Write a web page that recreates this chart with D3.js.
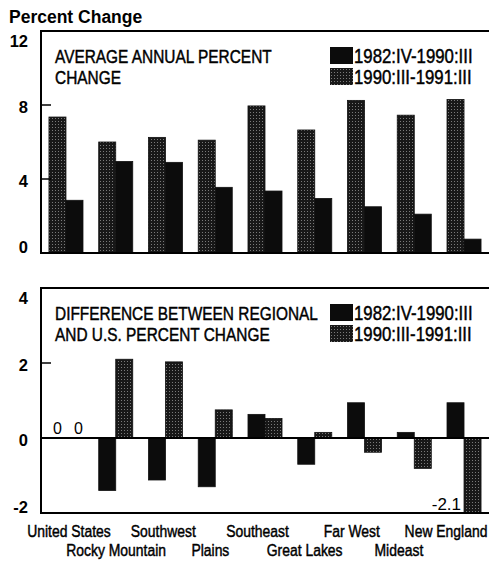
<!DOCTYPE html>
<html>
<head>
<meta charset="utf-8">
<script src="https://cdn.jsdelivr.net/npm/d3@7"></script>
<style>
  body { margin: 0; background: #fff; }
  text { font-family: "Liberation Sans", Arial, sans-serif; fill: #000; }
  .tick-label { font-weight: bold; font-size: 16.5px; }
  .heavy { stroke: #000; stroke-width: 0.45px; }
</style>
</head>
<body>
<div id="chart"></div>
<script>
const regions = ["United States", "Rocky Mountain", "Southwest", "Plains", "Southeast",
  "Great Lakes", "Far West", "Mideast", "New England"];
const periods = ["1982:IV-1990:III", "1990:III-1991:III"];

// average annual percent change
const avg8290 = [7.35, 6.0, 6.25, 6.1, 7.95, 6.65, 8.25, 7.45, 8.3];
const avg9091 = [2.85, 4.95, 4.9, 3.55, 3.35, 2.95, 2.5, 2.1, 0.75];

// difference between regional and U.S. percent change
const diff8290 = [0, -1.4, -1.12, -1.3, 0.63, -0.7, 0.94, 0.15, 0.94];
const diff9091 = [0, 2.1, 2.03, 0.75, 0.52, 0.15, -0.38, -0.81, -2.1];

const topTicks = [0, 4, 8, 12];
const bottomTicks = [-2, 0, 2, 4];

const width = 489, height = 563;
const left = 41, right = 489;
const squeeze = 0.82; // condensed type, as in the original

const svg = d3.select("#chart").append("svg")
  .attr("width", width)
  .attr("height", height);

// stippled fill
const pat = svg.append("defs").append("pattern")
  .attr("id", "stipple")
  .attr("patternUnits", "userSpaceOnUse")
  .attr("width", 3).attr("height", 3);
pat.append("rect").attr("width", 3).attr("height", 3).attr("fill", "#181818");
pat.append("rect").attr("x", 1).attr("y", 1).attr("width", 1).attr("height", 1).attr("fill", "#7a7a7a");

const x0 = d3.scaleBand().domain(regions).range([left, right])
  .paddingInner(0.316).paddingOuter(0.16);
const x1 = d3.scaleBand().domain([0, 1]).range([0, x0.bandwidth()]);
const xLabel = d3.scalePoint().domain(regions).range([69, 446]);

// condensed text: translate to spot, squeeze horizontally
function narrow(sel, x, y, size) {
  return sel
    .attr("class", "heavy")
    .attr("transform", function (d, i) {
      const xx = typeof x === "function" ? x(d, i) : x;
      const yy = typeof y === "function" ? y(d, i) : y;
      return "translate(" + xx + "," + yy + ") scale(" + squeeze + ",1)";
    })
    .style("font-size", size + "px");
}

svg.append("text")
  .attr("x", 9).attr("y", 23)
  .style("font-weight", "bold")
  .style("font-size", "17.5px")
  .text("Percent Change");

function panel(opts) {
  const y = d3.scaleLinear().domain(opts.domain).range(opts.range).clamp(true);
  const g = svg.append("g");
  const [ymin, ymax] = opts.domain;

  // bars
  const fills = opts.fills;
  [opts.a, opts.b].forEach(function (vals, k) {
    g.selectAll(null)
      .data(vals)
      .enter()
      .append("rect")
      .attr("x", (d, i) => x0(regions[i]) + x1(k))
      .attr("width", x1.bandwidth())
      .attr("y", d => y(Math.max(d, 0)))
      .attr("height", d => Math.abs(y(d) - y(0)))
      .attr("fill", fills[k])
      .attr("stroke", "#111")
      .attr("stroke-width", 0.8);
  });

  // frame
  const top = y(ymax), bottom = y(ymin);
  g.append("path")
    .attr("d", "M" + right + "," + top + "H" + left + "V" + bottom + "H" + right)
    .attr("fill", "none")
    .attr("stroke", "#000")
    .attr("stroke-width", 2);
  if (ymin < 0) {
    g.append("line")
      .attr("x1", left).attr("x2", right)
      .attr("y1", y(0)).attr("y2", y(0))
      .attr("stroke", "#000").attr("stroke-width", 1.8);
  }

  // ticks
  g.selectAll(null)
    .data(opts.ticks.filter(t => t > ymin && t < ymax))
    .enter()
    .append("line")
    .attr("x1", left).attr("x2", left + 10)
    .attr("y1", d => y(d)).attr("y2", d => y(d))
    .attr("stroke", "#000").attr("stroke-width", 1.5);

  g.selectAll(null)
    .data(opts.ticks)
    .enter()
    .append("text")
    .attr("class", "tick-label")
    .attr("x", 28)
    .attr("y", d => y(d) + (d === ymax ? 16 : d === ymin ? 0 : 8))
    .attr("text-anchor", "end")
    .text(d => d);

  // title
  narrow(g.selectAll(null)
    .data(opts.title)
    .enter()
    .append("text"), 55, (d, i) => top + 32 + i * 21, 18.8)
    .text(d => d);

  // legend
  const leg = g.selectAll(null)
    .data(periods)
    .enter()
    .append("g")
    .attr("transform", (d, i) => "translate(330," + (top + 16 + i * 21) + ")");
  leg.append("rect")
    .attr("width", 23).attr("height", 17)
    .attr("fill", (d, i) => opts.legendFills[i]);
  narrow(leg.append("text"), 24, 16, 20.5)
    .text(d => d);

  return { g: g, y: y };
}

panel({
  domain: [0, 12], range: [253, 31], ticks: topTicks,
  a: avg8290, b: avg9091,
  fills: ["url(#stipple)", "#0c0c0c"],
  legendFills: ["#0c0c0c", "url(#stipple)"],
  title: ["AVERAGE ANNUAL PERCENT", "CHANGE"]
});

const bot = panel({
  domain: [-2, 4], range: [513, 288], ticks: bottomTicks,
  a: diff8290, b: diff9091,
  fills: ["#0c0c0c", "url(#stipple)"],
  legendFills: ["#0c0c0c", "url(#stipple)"],
  title: ["DIFFERENCE BETWEEN REGIONAL", "AND U.S. PERCENT CHANGE"]
});

// zero labels for the U.S.
bot.g.selectAll(null)
  .data([diff8290[0], diff9091[0]])
  .enter()
  .append("text")
  .attr("x", (d, i) => x0(regions[0]) + x1(i) + x1.bandwidth() / 2 + (i ? 4 : 0))
  .attr("y", bot.y(0) - 4)
  .attr("text-anchor", "middle")
  .style("font-size", "16px")
  .text(d => d);

// clipped bar label
const last = regions.length - 1;
bot.g.append("text")
  .attr("x", x0(regions[last]) + x1(1) - 3)
  .attr("y", bot.y(-2) - 3)
  .attr("text-anchor", "end")
  .style("font-size", "17px")
  .text(diff9091[last]);

// region labels, staggered on two rows
narrow(svg.selectAll(".region")
  .data(regions)
  .enter()
  .append("text")
  .attr("text-anchor", "middle"), d => xLabel(d), (d, i) => (i % 2 ? 556 : 537), 17)
  .text(d => d);
</script>
</body>
</html>
